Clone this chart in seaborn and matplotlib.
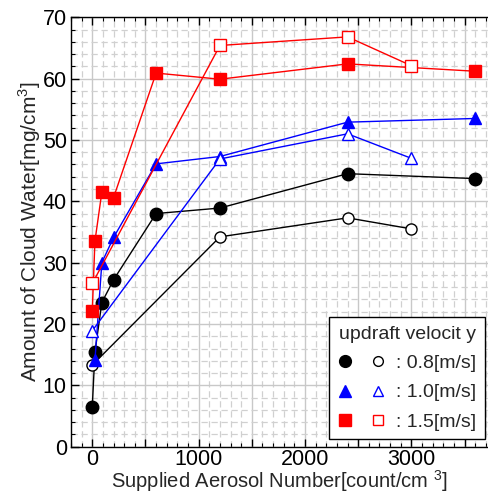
import matplotlib
matplotlib.use("Agg")
import matplotlib.pyplot as plt
import seaborn as sns
import pandas as pd
from matplotlib.lines import Line2D
from matplotlib.legend_handler import HandlerTuple
from matplotlib.ticker import MultipleLocator, FuncFormatter

# ---- data ----
x_filled = [0, 25, 90, 200, 600, 1200, 2400, 3600]
x_open = [0, 1200, 2400, 3000]
x_blue_filled = [25, 90, 200, 600, 1200, 2400, 3600]

y08_filled = [6.5, 15.4, 23.5, 27.2, 38.0, 38.9, 44.5, 43.7]
y08_open = [13.3, 34.2, 37.3, 35.5]
y10_filled = [14.1, 30.0, 34.1, 46.1, 47.3, 52.9, 53.5]
y10_open = [18.9, 46.9, 51.0, 47.0]
y15_filled = [22.1, 33.5, 41.5, 40.6, 60.9, 59.9, 62.4, 61.2]
y15_open = [26.6, 65.4, 66.8, 62.1]

labels = [": 0.8[m/s]", ": 1.0[m/s]", ": 1.5[m/s]"]
colors = ["black", "#0000ff", "#ff0000"]
markers = ["o", "^", "s"]

sns.set_style("white")
plt.rcParams["font.family"] = ["Liberation Sans", "DejaVu Sans"]
plt.rcParams["mathtext.fontset"] = "custom"
plt.rcParams["mathtext.rm"] = "Liberation Sans"

fig = plt.figure(figsize=(4.88, 4.93), dpi=100)
ax = fig.add_axes([0.1455, 0.094, 0.8545, 0.871])

series = [
    (x_filled, y08_filled, x_open, y08_open),
    (x_blue_filled, y10_filled, x_open, y10_open),
    (x_filled, y15_filled, x_open, y15_open),
]

handles = []
for (xf, yf, xo, yo), c, m, lab in zip(series, colors, markers, labels):
    df_f = pd.DataFrame({"x": xf, "y": yf})
    df_o = pd.DataFrame({"x": xo, "y": yo})
    sns.lineplot(data=df_f, x="x", y="y", ax=ax, color=c, linewidth=1.0,
                 marker=m, markersize=9, markerfacecolor=c, markeredgecolor=c,
                 markeredgewidth=1.0, estimator=None, sort=False, zorder=3)
    sns.lineplot(data=df_o, x="x", y="y", ax=ax, color=c, linewidth=1.0,
                 marker=m, markersize=8, markerfacecolor="white", markeredgecolor=c,
                 markeredgewidth=1.0, estimator=None, sort=False, zorder=3)
    hf = Line2D([], [], linestyle="none", marker=m, markersize=8.5,
                markerfacecolor=c, markeredgecolor=c)
    ho = Line2D([], [], linestyle="none", marker=m, markersize=7,
                markerfacecolor="white", markeredgecolor=c, markeredgewidth=1.0)
    handles.append((hf, ho))

ax.set_xlim(-200, 3720)
ax.set_ylim(0, 70)

ax.xaxis.set_major_locator(MultipleLocator(500))
ax.xaxis.set_minor_locator(MultipleLocator(100))
ax.xaxis.set_major_formatter(FuncFormatter(lambda v, p: f"{int(v)}" if v % 1000 == 0 else ""))
ax.yaxis.set_major_locator(MultipleLocator(10))
ax.yaxis.set_minor_locator(MultipleLocator(2))

ax.grid(True, which="major", color="#c8c8c8", linewidth=1.0, linestyle="-", zorder=0)
ax.grid(True, which="minor", color="#d0d0d0", linewidth=0.9, linestyle=(0, (5, 3)), zorder=0)
ax.set_axisbelow(True)

ax.tick_params(which="both", direction="in", top=True, right=False, bottom=True, left=True,
               labelsize=15.5, colors="black")
ax.tick_params(axis="x", pad=2)
ax.tick_params(axis="y", pad=3)
ax.tick_params(which="major", length=6, width=1.0)
ax.tick_params(which="minor", length=3, width=0.8)

for s in ax.spines.values():
    s.set_color("black")
    s.set_linewidth(1.0)
ax.spines["right"].set_visible(False)

ax.set_xlabel("Supplied Aerosol Number[count/cm $^{3}$]", fontsize=14.5, labelpad=-1.5)
ax.set_ylabel("Amount of Cloud Water[mg/cm$^{3}$]", fontsize=15, labelpad=0)

leg = ax.legend(handles=handles, labels=labels, title="updraft velocit y",
                handler_map={tuple: HandlerTuple(ndivide=None, pad=1.0)},
                loc="lower right", bbox_to_anchor=(0.993, 0.017), borderaxespad=0,
                fontsize=14, title_fontsize=14, frameon=True, fancybox=False,
                framealpha=1.0, edgecolor="black", handlelength=2.4,
                handletextpad=0.6, borderpad=0.45, labelspacing=0.6)
leg.get_frame().set_linewidth(1.0)

fig.savefig("out.png", dpi=100)
